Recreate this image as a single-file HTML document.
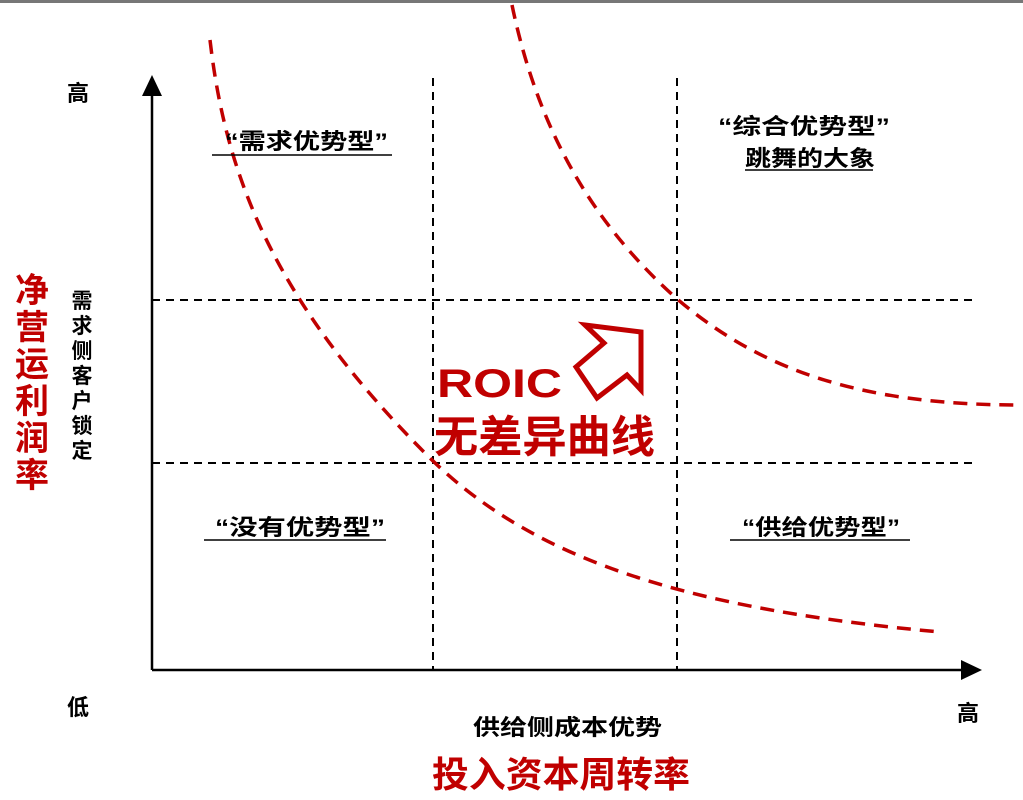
<!DOCTYPE html><html><head><meta charset="utf-8"><style>body{margin:0;width:1023px;height:795px;background:#fff;overflow:hidden}svg text{font-family:"Liberation Sans","Noto Sans CJK SC",sans-serif;font-weight:bold}</style></head><body>
<svg width="1023" height="795" viewBox="0 0 1023 795">
<rect x="0" y="0" width="1023" height="3" fill="#777"/>
<g stroke="#000" stroke-width="2" stroke-dasharray="8,6" fill="none">
<line x1="433" y1="78" x2="433" y2="670"/><line x1="677" y1="78" x2="677" y2="670"/>
<line x1="152" y1="300" x2="975" y2="300"/><line x1="152" y1="463" x2="975" y2="463"/>
</g>
<line x1="152" y1="670" x2="152" y2="92" stroke="#000" stroke-width="2.5"/>
<polygon points="152,75 142,96 162,96" fill="#000"/>
<line x1="152" y1="670" x2="962" y2="670" stroke="#000" stroke-width="2.5"/>
<polygon points="982,670 961,660 961,680" fill="#000"/>
<g stroke="#c00000" stroke-width="3.5" stroke-dasharray="14,9" fill="none">
<path d="M210,40 C225,170 270,300 432,460 C540,565 700,610 940,632"/>
<path d="M512,5 C540,140 600,230 676,298 C760,370 860,405 1020,405"/>
</g>
<polygon points="585,325 641,332 641,390 627,375 597,398 576,367 604,343" fill="none" stroke="#c00000" stroke-width="5" stroke-linejoin="miter"/>
<g font-size="22" fill="#000">
<text x="78" y="101" text-anchor="middle">高</text>
<text x="78" y="715" text-anchor="middle">低</text>
<text x="968" y="721" text-anchor="middle">高</text>
<text x="225" y="149" textLength="163" lengthAdjust="spacingAndGlyphs">“需求优势型”</text>
<text x="718" y="134" textLength="172" lengthAdjust="spacingAndGlyphs">“综合优势型”</text>
<text x="745" y="166" textLength="130" lengthAdjust="spacingAndGlyphs">跳舞的大象</text>
<text x="215" y="535" textLength="170" lengthAdjust="spacingAndGlyphs">“没有优势型”</text>
<text x="742" y="535" textLength="158" lengthAdjust="spacingAndGlyphs">“供给优势型”</text>
<text x="473" y="735" font-size="22" textLength="189" lengthAdjust="spacingAndGlyphs">供给侧成本优势</text>
</g>
<g stroke="#000" stroke-width="1.5">
<line x1="212" y1="155" x2="392" y2="155"/><line x1="745" y1="170" x2="873" y2="170"/>
<line x1="204" y1="540" x2="386" y2="540"/><line x1="730" y1="540" x2="910" y2="540"/>
</g>
<text font-size="21" fill="#000" text-anchor="middle"><tspan x="82" y="308">需</tspan><tspan x="82" y="333">求</tspan><tspan x="82" y="358">侧</tspan><tspan x="82" y="383">客</tspan><tspan x="82" y="408">户</tspan><tspan x="82" y="433">锁</tspan><tspan x="82" y="458">定</tspan></text>
<text font-size="34" fill="#c00000" text-anchor="middle"><tspan x="32" y="302">净</tspan><tspan x="32" y="339">营</tspan><tspan x="32" y="376">运</tspan><tspan x="32" y="413">利</tspan><tspan x="32" y="450">润</tspan><tspan x="32" y="487">率</tspan></text>
<text x="437" y="397" font-size="40" fill="#c00000" textLength="125" lengthAdjust="spacingAndGlyphs">ROIC</text>
<text x="434" y="452" font-size="44" fill="#c00000" textLength="221" lengthAdjust="spacingAndGlyphs">无差异曲线</text>
<text x="432" y="787" font-size="36" fill="#c00000" textLength="258" lengthAdjust="spacingAndGlyphs">投入资本周转率</text>
</svg></body></html>
